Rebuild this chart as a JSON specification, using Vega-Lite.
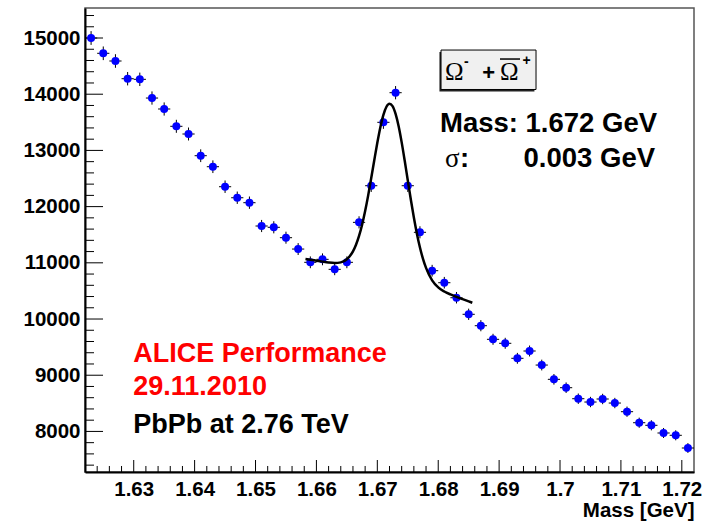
{
  "$schema": "https://vega.github.io/schema/vega-lite/v6.json",
  "width": 609,
  "height": 464,
  "autosize": {"type": "none"},
  "padding": {"left": 85, "top": 8, "right": 27, "bottom": 49},
  "background": "white",
  "config": {"view": {"stroke": "#555555", "strokeWidth": 1.5}, "font": "Liberation Sans"},
  "datasets": {
    "hist": [
      {"m": 1.623, "n": 15000, "e": 122.5}, {"m": 1.625, "n": 14728, "e": 121.4}, {"m": 1.627, "n": 14591, "e": 120.8},
      {"m": 1.629, "n": 14276, "e": 119.5}, {"m": 1.631, "n": 14265, "e": 119.4}, {"m": 1.633, "n": 13932, "e": 118.0},
      {"m": 1.635, "n": 13737, "e": 117.2}, {"m": 1.637, "n": 13429, "e": 115.9}, {"m": 1.639, "n": 13292, "e": 115.3},
      {"m": 1.641, "n": 12906, "e": 113.6}, {"m": 1.643, "n": 12710, "e": 112.7}, {"m": 1.645, "n": 12354, "e": 111.1},
      {"m": 1.647, "n": 12158, "e": 110.3}, {"m": 1.649, "n": 12070, "e": 109.9}, {"m": 1.651, "n": 11655, "e": 108.0},
      {"m": 1.653, "n": 11632, "e": 107.9}, {"m": 1.655, "n": 11447, "e": 107.0}, {"m": 1.657, "n": 11245, "e": 106.0},
      {"m": 1.659, "n": 11009, "e": 104.9}, {"m": 1.661, "n": 11062, "e": 105.2}, {"m": 1.663, "n": 10884, "e": 104.3},
      {"m": 1.665, "n": 11009, "e": 104.9}, {"m": 1.667, "n": 11720, "e": 108.3}, {"m": 1.669, "n": 12372, "e": 111.2},
      {"m": 1.671, "n": 13500, "e": 116.2}, {"m": 1.673, "n": 14027, "e": 118.4}, {"m": 1.675, "n": 12372, "e": 111.2},
      {"m": 1.677, "n": 11543, "e": 107.4}, {"m": 1.679, "n": 10860, "e": 104.2}, {"m": 1.681, "n": 10646, "e": 103.2},
      {"m": 1.683, "n": 10379, "e": 101.9}, {"m": 1.685, "n": 10084, "e": 100.4}, {"m": 1.687, "n": 9881, "e": 99.4},
      {"m": 1.689, "n": 9639, "e": 98.2}, {"m": 1.691, "n": 9568, "e": 97.8}, {"m": 1.693, "n": 9301, "e": 96.4},
      {"m": 1.695, "n": 9431, "e": 97.1}, {"m": 1.697, "n": 9181, "e": 95.8}, {"m": 1.699, "n": 8927, "e": 94.5},
      {"m": 1.701, "n": 8778, "e": 93.7}, {"m": 1.703, "n": 8582, "e": 92.6}, {"m": 1.705, "n": 8523, "e": 92.3},
      {"m": 1.707, "n": 8577, "e": 92.6}, {"m": 1.709, "n": 8505, "e": 92.2}, {"m": 1.711, "n": 8351, "e": 91.4},
      {"m": 1.713, "n": 8155, "e": 90.3}, {"m": 1.715, "n": 8109, "e": 90.1}, {"m": 1.717, "n": 7972, "e": 89.3},
      {"m": 1.719, "n": 7931, "e": 89.1}, {"m": 1.721, "n": 7705, "e": 87.8}
    ],
    "fit": [
      {"m": 1.6582, "v": 11068}, {"m": 1.659, "v": 11055}, {"m": 1.660, "v": 11038}, {"m": 1.661, "v": 11021},
      {"m": 1.662, "v": 11006}, {"m": 1.663, "v": 10998}, {"m": 1.664, "v": 11008}, {"m": 1.665, "v": 11063},
      {"m": 1.666, "v": 11203}, {"m": 1.6665, "v": 11321}, {"m": 1.667, "v": 11478}, {"m": 1.6675, "v": 11678},
      {"m": 1.668, "v": 11921}, {"m": 1.6685, "v": 12200}, {"m": 1.669, "v": 12508}, {"m": 1.6695, "v": 12826},
      {"m": 1.670, "v": 13135}, {"m": 1.6705, "v": 13412}, {"m": 1.671, "v": 13633}, {"m": 1.6715, "v": 13777},
      {"m": 1.672, "v": 13831}, {"m": 1.6725, "v": 13788}, {"m": 1.673, "v": 13649}, {"m": 1.6735, "v": 13429},
      {"m": 1.674, "v": 13143}, {"m": 1.6745, "v": 12815}, {"m": 1.675, "v": 12469}, {"m": 1.6755, "v": 12127},
      {"m": 1.676, "v": 11805}, {"m": 1.6765, "v": 11519}, {"m": 1.677, "v": 11273}, {"m": 1.6775, "v": 11070},
      {"m": 1.678, "v": 10909}, {"m": 1.679, "v": 10688}, {"m": 1.680, "v": 10563}, {"m": 1.681, "v": 10489},
      {"m": 1.682, "v": 10438}, {"m": 1.683, "v": 10395}, {"m": 1.684, "v": 10354}, {"m": 1.685, "v": 10314},
      {"m": 1.6856, "v": 10290}
    ],
    "xmajor": [{"t": 1.63}, {"t": 1.64}, {"t": 1.65}, {"t": 1.66}, {"t": 1.67}, {"t": 1.68}, {"t": 1.69}, {"t": 1.70}, {"t": 1.71}, {"t": 1.72}],
    "xminor": [{"t": 1.624}, {"t": 1.626}, {"t": 1.628}, {"t": 1.632}, {"t": 1.634}, {"t": 1.636}, {"t": 1.638}, {"t": 1.642}, {"t": 1.644}, {"t": 1.646}, {"t": 1.648}, {"t": 1.652}, {"t": 1.654}, {"t": 1.656}, {"t": 1.658}, {"t": 1.662}, {"t": 1.664}, {"t": 1.666}, {"t": 1.668}, {"t": 1.672}, {"t": 1.674}, {"t": 1.676}, {"t": 1.678}, {"t": 1.682}, {"t": 1.684}, {"t": 1.686}, {"t": 1.688}, {"t": 1.692}, {"t": 1.694}, {"t": 1.696}, {"t": 1.698}, {"t": 1.702}, {"t": 1.704}, {"t": 1.706}, {"t": 1.708}, {"t": 1.712}, {"t": 1.714}, {"t": 1.716}, {"t": 1.718}],
    "ymajor": [{"t": 8000}, {"t": 9000}, {"t": 10000}, {"t": 11000}, {"t": 12000}, {"t": 13000}, {"t": 14000}, {"t": 15000}],
    "yminor": [{"t": 7400}, {"t": 7600}, {"t": 7800}, {"t": 8200}, {"t": 8400}, {"t": 8600}, {"t": 8800}, {"t": 9200}, {"t": 9400}, {"t": 9600}, {"t": 9800}, {"t": 10200}, {"t": 10400}, {"t": 10600}, {"t": 10800}, {"t": 11200}, {"t": 11400}, {"t": 11600}, {"t": 11800}, {"t": 12200}, {"t": 12400}, {"t": 12600}, {"t": 12800}, {"t": 13200}, {"t": 13400}, {"t": 13600}, {"t": 13800}, {"t": 14200}, {"t": 14400}, {"t": 14600}, {"t": 14800}, {"t": 15200}, {"t": 15400}]
  },
  "layer": [
    {
      "data": {"name": "xmajor"},
      "mark": {"type": "rule", "color": "black", "strokeWidth": 1},
      "encoding": {
        "x": {"field": "t", "type": "quantitative", "scale": {"domain": [1.622, 1.722], "nice": false, "zero": false},
          "axis": {"orient": "bottom", "values": [1.63, 1.64, 1.65, 1.66, 1.67, 1.68, 1.69, 1.7, 1.71, 1.72], "format": ".2~f",
            "ticks": false, "domain": true, "domainColor": "black", "domainWidth": 2, "grid": false,
            "labelFont": "Liberation Sans", "labelFontWeight": "bold", "labelFontSize": 20.5, "labelColor": "black", "labelPadding": 7, "labelFlush": false, "labelOverlap": false,
            "title": "Mass [GeV]", "titleFont": "Liberation Sans", "titleFontWeight": "bold", "titleFontSize": 20.5, "titleColor": "black",
            "titleAnchor": "end", "titleAlign": "right", "titleX": 609, "titleY": 44, "titleBaseline": "alphabetic"}},
        "y": {"datum": 7278, "type": "quantitative", "scale": {"domain": [7278, 15534], "nice": false, "zero": false},
          "axis": {"orient": "left", "values": [8000, 9000, 10000, 11000, 12000, 13000, 14000, 15000], "format": "d",
            "ticks": false, "domain": true, "domainColor": "black", "domainWidth": 2, "grid": false,
            "labelFont": "Liberation Sans", "labelFontWeight": "bold", "labelFontSize": 20.5, "labelColor": "black", "labelPadding": 5, "labelFlush": false, "labelOverlap": false,
            "title": null}},
        "y2": {"datum": 7491.5}
      }
    },
    {
      "data": {"name": "xminor"},
      "mark": {"type": "rule", "color": "black", "strokeWidth": 1},
      "encoding": {
        "x": {"field": "t", "type": "quantitative", "scale": {"domain": [1.622, 1.722], "nice": false, "zero": false}},
        "y": {"datum": 7278, "type": "quantitative", "scale": {"domain": [7278, 15534], "nice": false, "zero": false}},
        "y2": {"datum": 7384.8}
      }
    },
    {
      "data": {"name": "ymajor"},
      "mark": {"type": "rule", "color": "black", "strokeWidth": 1},
      "encoding": {
        "y": {"field": "t", "type": "quantitative", "scale": {"domain": [7278, 15534], "nice": false, "zero": false}},
        "x": {"datum": 1.622, "type": "quantitative", "scale": {"domain": [1.622, 1.722], "nice": false, "zero": false}},
        "x2": {"datum": 1.62496}
      }
    },
    {
      "data": {"name": "yminor"},
      "mark": {"type": "rule", "color": "black", "strokeWidth": 1},
      "encoding": {
        "y": {"field": "t", "type": "quantitative", "scale": {"domain": [7278, 15534], "nice": false, "zero": false}},
        "x": {"datum": 1.622, "type": "quantitative", "scale": {"domain": [1.622, 1.722], "nice": false, "zero": false}},
        "x2": {"datum": 1.62348}
      }
    },
    {
      "data": {"name": "hist"},
      "mark": {"type": "errorbar", "color": "black", "thickness": 1},
      "encoding": {
        "x": {"field": "m", "type": "quantitative", "scale": {"domain": [1.622, 1.722], "nice": false, "zero": false}},
        "y": {"field": "n", "type": "quantitative", "scale": {"domain": [7278, 15534], "nice": false, "zero": false}},
        "yError": {"field": "e"}
      }
    },
    {
      "data": {"name": "hist"},
      "mark": {"type": "tick", "orient": "horizontal", "size": 12.2, "thickness": 1, "color": "black", "opacity": 1},
      "encoding": {
        "x": {"field": "m", "type": "quantitative", "scale": {"domain": [1.622, 1.722], "nice": false, "zero": false}},
        "y": {"field": "n", "type": "quantitative", "scale": {"domain": [7278, 15534], "nice": false, "zero": false}}
      }
    },
    {
      "data": {"name": "hist"},
      "mark": {"type": "point", "filled": true, "shape": "circle", "size": 64, "color": "#0000ff", "opacity": 1},
      "encoding": {
        "x": {"field": "m", "type": "quantitative", "scale": {"domain": [1.622, 1.722], "nice": false, "zero": false}},
        "y": {"field": "n", "type": "quantitative", "scale": {"domain": [7278, 15534], "nice": false, "zero": false}}
      }
    },
    {
      "data": {"name": "fit"},
      "mark": {"type": "line", "color": "black", "strokeWidth": 2.5, "interpolate": "monotone"},
      "encoding": {
        "x": {"field": "m", "type": "quantitative", "scale": {"domain": [1.622, 1.722], "nice": false, "zero": false}},
        "y": {"field": "v", "type": "quantitative", "scale": {"domain": [7278, 15534], "nice": false, "zero": false}}
      }
    },
    {
      "data": {"values": [{}]},
      "mark": {"type": "rect", "fill": "#222222"},
      "encoding": {
        "x": {"datum": 1.6802, "type": "quantitative"}, "x2": {"datum": 1.6958},
        "y": {"datum": 14750, "type": "quantitative"}, "y2": {"datum": 14048}
      }
    },
    {
      "data": {"values": [{}]},
      "mark": {"type": "rect", "fill": "#f0f0f0", "stroke": "black", "strokeWidth": 1},
      "encoding": {
        "x": {"datum": 1.68046, "type": "quantitative"}, "x2": {"datum": 1.69606},
        "y": {"datum": 14786, "type": "quantitative"}, "y2": {"datum": 14084}
      }
    },
    {
      "data": {"values": [{}]},
      "mark": {"type": "text", "text": "Ω", "font": "Liberation Serif", "fontSize": 25, "align": "left", "baseline": "alphabetic", "color": "black"},
      "encoding": {"x": {"datum": 1.68111, "type": "quantitative"}, "y": {"datum": 14253, "type": "quantitative"}}
    },
    {
      "data": {"values": [{}]},
      "mark": {"type": "text", "text": "-", "font": "Liberation Sans", "fontWeight": "bold", "fontSize": 14, "align": "left", "baseline": "alphabetic", "color": "black"},
      "encoding": {"x": {"datum": 1.68423, "type": "quantitative"}, "y": {"datum": 14502, "type": "quantitative"}}
    },
    {
      "data": {"values": [{}]},
      "mark": {"type": "text", "text": "+", "font": "Liberation Sans", "fontWeight": "bold", "fontSize": 22, "align": "center", "baseline": "alphabetic", "color": "black"},
      "encoding": {"x": {"datum": 1.6883, "type": "quantitative"}, "y": {"datum": 14258, "type": "quantitative"}}
    },
    {
      "data": {"values": [{}]},
      "mark": {"type": "text", "text": "Ω", "font": "Liberation Serif", "fontSize": 25, "align": "left", "baseline": "alphabetic", "color": "black"},
      "encoding": {"x": {"datum": 1.69014, "type": "quantitative"}, "y": {"datum": 14253, "type": "quantitative"}}
    },
    {
      "data": {"values": [{}]},
      "mark": {"type": "rule", "color": "black", "strokeWidth": 1.5},
      "encoding": {
        "x": {"datum": 1.69014, "type": "quantitative"}, "x2": {"datum": 1.69343},
        "y": {"datum": 14626, "type": "quantitative"}
      }
    },
    {
      "data": {"values": [{}]},
      "mark": {"type": "text", "text": "+", "font": "Liberation Sans", "fontWeight": "bold", "fontSize": 14, "align": "center", "baseline": "alphabetic", "color": "black"},
      "encoding": {"x": {"datum": 1.6945, "type": "quantitative"}, "y": {"datum": 14521, "type": "quantitative"}}
    },
    {
      "data": {"values": [{}]},
      "mark": {"type": "text", "text": "Mass: 1.672 GeV", "font": "Liberation Sans", "fontWeight": "bold", "fontSize": 27.5, "align": "left", "baseline": "alphabetic", "color": "black"},
      "encoding": {"x": {"datum": 1.68029, "type": "quantitative"}, "y": {"datum": 13333, "type": "quantitative"}}
    },
    {
      "data": {"values": [{}]},
      "mark": {"type": "text", "text": "σ", "font": "Liberation Serif", "fontSize": 27, "align": "left", "baseline": "alphabetic", "color": "black"},
      "encoding": {"x": {"datum": 1.68111, "type": "quantitative"}, "y": {"datum": 12710, "type": "quantitative"}}
    },
    {
      "data": {"values": [{}]},
      "mark": {"type": "text", "text": ":", "font": "Liberation Sans", "fontWeight": "bold", "fontSize": 27.5, "align": "left", "baseline": "alphabetic", "color": "black"},
      "encoding": {"x": {"datum": 1.68358, "type": "quantitative"}, "y": {"datum": 12710, "type": "quantitative"}}
    },
    {
      "data": {"values": [{}]},
      "mark": {"type": "text", "text": "0.003 GeV", "font": "Liberation Sans", "fontWeight": "bold", "fontSize": 27.5, "align": "right", "baseline": "alphabetic", "color": "black"},
      "encoding": {"x": {"datum": 1.7156, "type": "quantitative"}, "y": {"datum": 12710, "type": "quantitative"}}
    },
    {
      "data": {"values": [{}]},
      "mark": {"type": "text", "text": "ALICE Performance", "font": "Liberation Sans", "fontWeight": "bold", "fontSize": 27, "align": "left", "baseline": "alphabetic", "color": "#ff0000"},
      "encoding": {"x": {"datum": 1.62993, "type": "quantitative"}, "y": {"datum": 9240, "type": "quantitative"}}
    },
    {
      "data": {"values": [{}]},
      "mark": {"type": "text", "text": "29.11.2010", "font": "Liberation Sans", "fontWeight": "bold", "fontSize": 27, "align": "left", "baseline": "alphabetic", "color": "#ff0000"},
      "encoding": {"x": {"datum": 1.62993, "type": "quantitative"}, "y": {"datum": 8648, "type": "quantitative"}}
    },
    {
      "data": {"values": [{}]},
      "mark": {"type": "text", "text": "PbPb at 2.76 TeV", "font": "Liberation Sans", "fontWeight": "bold", "fontSize": 27, "align": "left", "baseline": "alphabetic", "color": "black"},
      "encoding": {"x": {"datum": 1.62993, "type": "quantitative"}, "y": {"datum": 7977, "type": "quantitative"}}
    }
  ]
}
